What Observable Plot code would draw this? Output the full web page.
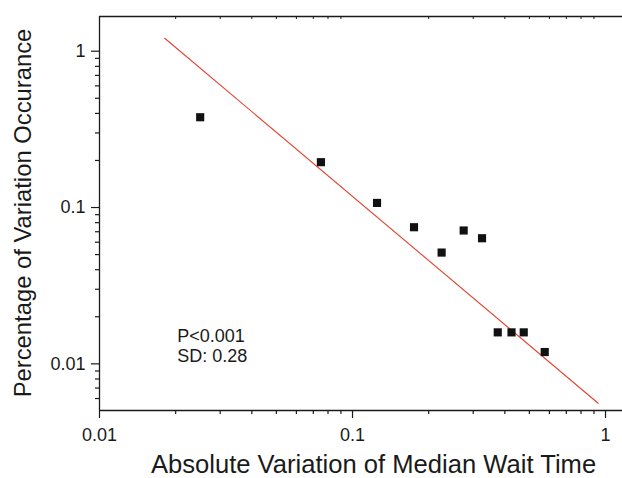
<!DOCTYPE html>
<html>
<head>
<meta charset="utf-8">
<script src="https://cdn.jsdelivr.net/npm/d3@7"></script>
<script src="https://cdn.jsdelivr.net/npm/@observablehq/plot@0.6"></script>
<style>
  html, body { margin: 0; padding: 0; background: #fff; }
  svg { display: block; }
</style>
</head>
<body>
<div id="chart"></div>
<script>
// Data
const xValues = [0.025, 0.075, 0.125, 0.175, 0.225, 0.275, 0.325, 0.375, 0.425, 0.475, 0.575];
const yValues = [0.378, 0.195, 0.107, 0.0748, 0.0515, 0.0713, 0.0636, 0.0159, 0.0159, 0.0159, 0.0119];

// fitted regression line endpoints (log-log)
const fitX = [0.0181, 0.935];
const fitY = [1.21, 0.0056];

// axis ticks
const xMajor = [0.01, 0.1, 1];
const xMinor = [0.02, 0.03, 0.04, 0.05, 0.06, 0.07, 0.08, 0.09, 0.2, 0.3, 0.4, 0.5, 0.6, 0.7, 0.8, 0.9];
const yMajor = [0.01, 0.1, 1];
const yMinor = [0.006, 0.007, 0.008, 0.009, 0.02, 0.03, 0.04, 0.05, 0.06, 0.07, 0.08, 0.09, 0.2, 0.3, 0.4, 0.5, 0.6, 0.7, 0.8, 0.9];
const tickLabels = {0.01: "0.01", 0.1: "0.1", 1: "1"};

const xDomain = [0.01, 1.167];
const yDomain = [0.00503, 1.667];

const xTitle = "Absolute Variation of Median Wait Time";
const yTitle = "Percentage of Variation Occurance";
const annotation = ["P<0.001", "SD: 0.28"];
const annotationPos = {x: 0.0203, y: 0.0171};

const points = xValues.map((x, i) => ({x, y: yValues[i]}));
const fit = fitX.map((x, i) => ({x, y: fitY[i]}));

const ink = "#1a1a1a";
const font = "'Liberation Sans', Arial, Helvetica, sans-serif";

const chart = Plot.plot({
  width: 622,
  height: 478,
  marginLeft: 99,
  marginRight: 0,
  marginTop: 16,
  marginBottom: 68,
  style: {fontFamily: font, color: ink, background: "#fff"},
  x: {type: "log", domain: xDomain, axis: null},
  y: {type: "log", domain: yDomain, axis: null},
  marks: [
    // frame lines
    Plot.ruleX([xDomain[0]], {stroke: ink, strokeWidth: 1.3}),
    Plot.ruleY([yDomain[0]], {stroke: ink, strokeWidth: 1.3}),
    Plot.ruleY([yDomain[1]], {stroke: ink, strokeWidth: 1.3}),
    // x axis
    Plot.axisX({anchor: "bottom", label: null, ticks: xMajor, tickSize: 8, tickPadding: 10, fontSize: 18,
      tickFormat: d => tickLabels[d], stroke: ink, strokeWidth: 1.2, fill: ink}),
    Plot.axisX({anchor: "bottom", label: null, ticks: xMinor, tickSize: 4, tickFormat: () => "", stroke: ink, strokeWidth: 1.2}),
    Plot.axisX({anchor: "top", label: null, ticks: xMinor, tickSize: -2, tickFormat: () => "", stroke: ink, strokeWidth: 1}),
    // y axis
    Plot.axisY({anchor: "left", label: null, ticks: yMajor, tickSize: 8, tickPadding: 6, fontSize: 18,
      tickFormat: d => tickLabels[d], stroke: ink, strokeWidth: 1.2, fill: ink}),
    Plot.axisY({anchor: "left", label: null, ticks: yMinor, tickSize: 4, tickFormat: () => "", stroke: ink, strokeWidth: 1.2}),
    // regression line
    Plot.line(fit, {x: "x", y: "y", stroke: "#e5412d", strokeWidth: 1.1}),
    // data points
    Plot.dot(points, {x: "x", y: "y", symbol: "square", r: 4.6, fill: "#111", stroke: "none"}),
    // annotation
    Plot.text([annotation.join("\n")], {x: annotationPos.x, y: annotationPos.y, textAnchor: "start",
      lineAnchor: "top", lineHeight: 1.12, fontSize: 18, fill: ink}),
    // axis titles
    Plot.text([xTitle], {frameAnchor: "bottom", dx: 12.5, dy: 54.5, textAnchor: "middle", lineAnchor: "middle", fontSize: 25.6, fill: ink}),
    Plot.text([yTitle], {frameAnchor: "left", dx: -75.7, dy: -0.5, rotate: -90, textAnchor: "middle", lineAnchor: "middle", fontSize: 23.8, fill: ink})
  ]
});

document.getElementById("chart").appendChild(chart);
</script>
</body>
</html>
